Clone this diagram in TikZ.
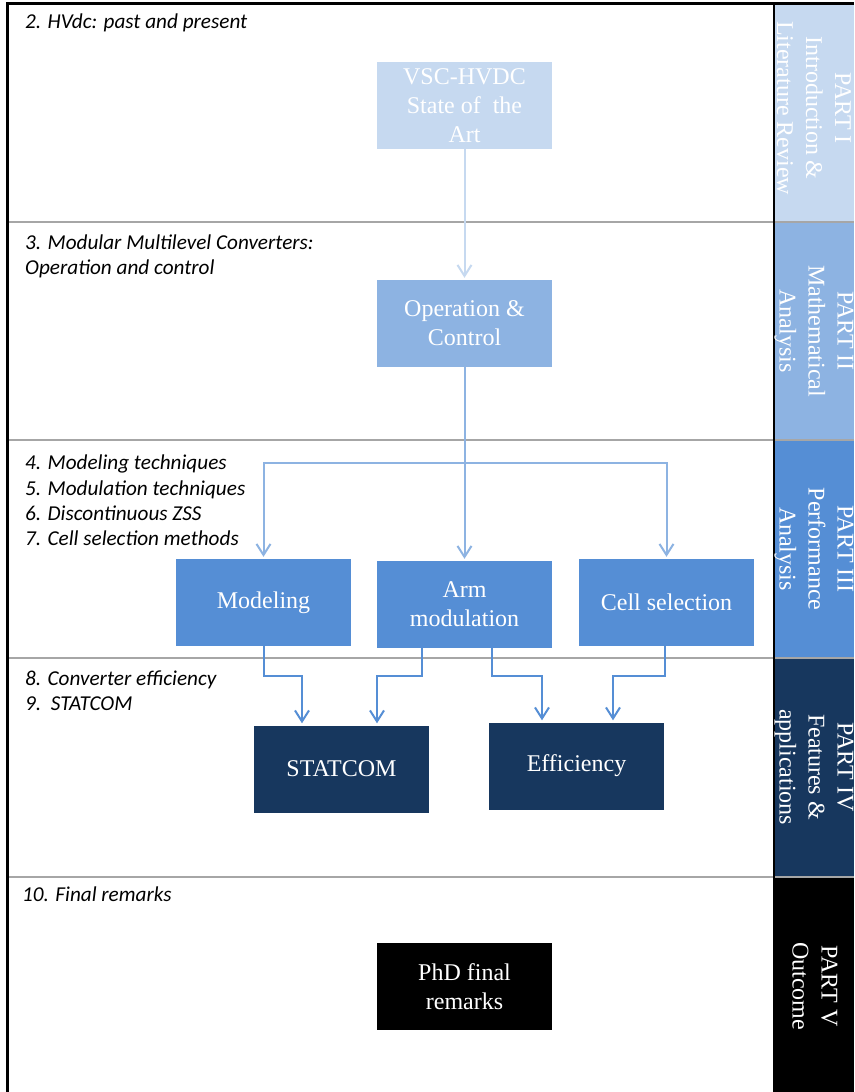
\documentclass[tikz,border=0pt]{standalone}
\usepackage{fontspec}
\setmainfont{Liberation Serif}
\newfontfamily\labelfont{Carlito}
\usetikzlibrary{arrows.meta}
\definecolor{cA}{HTML}{C6D9F0}
\definecolor{cB}{HTML}{8DB3E2}
\definecolor{cC}{HTML}{558ED5}
\definecolor{cD}{HTML}{17375E}
\definecolor{sepgray}{HTML}{A6A6A6}
\begin{document}
\begin{tikzpicture}[x=1pt,y=-1pt,
 boxst/.style={minimum width=175pt, minimum height=87pt, inner sep=0pt, align=center, text=white, font=\fontsize{24}{29}\selectfont},
 partst/.style={rotate=-90, align=center, text=white, font=\fontsize{24}{29}\selectfont, inner sep=0pt},
 secst/.style={anchor=west, align=left, font=\labelfont\itshape\fontsize{21.2}{25.3}\selectfont, inner sep=0pt},
 conn/.style={line width=2pt, -{Straight Barb[length=11pt,width=14pt]}, shorten >=2pt},
 sep/.style={draw=sepgray, line width=2pt}]
\useasboundingbox (0,0) rectangle (854,1092);
\fill[white] (0,0) rectangle (854,1092);
% right column
\fill[cA] (775,5) rectangle (854,221);
\fill[cB] (775,223) rectangle (854,439);
\fill[cC] (775,441) rectangle (854,657);
\fill[cD] (775,659) rectangle (854,876);
\fill[black] (775,878) rectangle (854,1092);
% separators
\draw[sep] (8,222) -- (854,222);
\draw[sep] (8,440) -- (854,440);
\draw[sep] (8,658) -- (854,658);
\draw[sep] (8,877) -- (854,877);
% borders
\draw[line width=3pt] (7,1092) -- (7,3.5) -- (854,3.5);
\draw[line width=2.5pt] (774,3.5) -- (774,1092);
% part labels
\node[partst] (p1) at (814,108) {PART I\\Introduction \&\\Literature Review};
\node[partst] (p2) at (814,331) {PART II\\Mathematical\\Analysis};
\node[partst] (p3) at (814,549) {PART III\\Performance\\Analysis};
\node[partst] (p4) at (814,767) {PART IV\\Features \&\\applications};
\node[partst] (p5) at (815,986) {PART V\\Outcome};
% section labels
\node[secst] (s2) at (25,23) {2. HVdc: past and present};
\node[secst] (s3) at (25,256) {3. Modular Multilevel Converters:\\Operation and control};
\node[secst] (s4) at (25,500.5) {4. Modeling techniques\\5. Modulation techniques\\6. Discontinuous ZSS\\7. Cell selection methods};
\node[secst] (s8) at (25,690.5) {8. Converter efficiency\\9.\ \ STATCOM};
\node[secst] (s10) at (22,894.5) {10. Final remarks};
% boxes
\node[boxst, fill=cA] (vsc) at (464.5,105.5) {VSC-HVDC\\State of\ \ the\\Art};
\node[boxst, fill=cB] (op) at (464.5,323.5) {Operation \&\\Control};
\node[boxst, fill=cC] (model) at (263.5,602.5) {Modeling};
\node[boxst, fill=cC] (arm) at (464.5,604.5) {Arm\\modulation};
\node[boxst, fill=cC] (cell) at (666.5,602.5) {Cell selection};
\node[boxst, fill=cD] (stat) at (341.5,769) {STATCOM};
\node[boxst, fill=cD] (eff) at (576.5,766) {Efficiency};
\node[boxst, fill=black] (phd) at (464.5,986.5) {PhD final\\remarks};
% connectors
\draw[conn, draw=cA] (vsc.south) -- (op.north);
\coordinate (fan) at (464.5,463);
\draw[conn, draw=cB] (op.south) -- (fan) -| (model.north);
\draw[conn, draw=cB] (fan) -| (cell.north);
\draw[conn, draw=cB] (fan) -- (arm.north);
\draw[conn, draw=cC] (model.south) -- ++(0,30) -| ([xshift=-39.5pt]stat.north);
\draw[conn, draw=cC] ([xshift=-42.5pt]arm.south) -- ++(0,28) -| ([xshift=35.5pt]stat.north);
\draw[conn, draw=cC] ([xshift=27.5pt]arm.south) -- ++(0,28) -| ([xshift=-34.5pt]eff.north);
\draw[conn, draw=cC] ([xshift=-1.5pt]cell.south) -- ++(0,30) -| ([xshift=36.5pt]eff.north);
\end{tikzpicture}
\end{document}
